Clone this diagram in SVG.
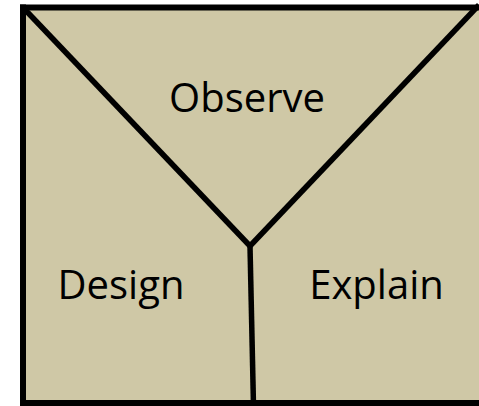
<svg xmlns="http://www.w3.org/2000/svg" width="479" height="406" viewBox="0 0 479 406">
  <defs>
    <style>
      .panel { fill: #CFC8A6; stroke: none; }
      .border { stroke: #000; stroke-width: 6; stroke-linecap: butt; }
      .edge { fill: none; stroke: #000; stroke-width: 5.5; stroke-linecap: butt; }
      .label { font-family: "Open Sans", "Liberation Sans", sans-serif; font-size: 40px; fill: #000; text-anchor: middle; }
    </style>
  </defs>
  <rect width="479" height="406" fill="#FFFFFF"/>
  <g id="frame">
    <rect class="panel" x="23" y="7.5" width="456" height="395.5"/>
    <line class="border" x1="20" y1="7.5" x2="479" y2="7.5"/>
    <line class="border" x1="23" y1="4.5" x2="23" y2="406"/>
    <line class="border" x1="20" y1="403" x2="479" y2="403"/>
  </g>
  <g id="connectors">
    <line class="edge" x1="23" y1="7.5" x2="250" y2="246"/>
    <line class="edge" x1="250" y1="246" x2="479" y2="5"/>
    <line class="edge" x1="250" y1="246" x2="253.5" y2="406"/>
  </g>
  <g id="observe">
    <text class="label" x="247" y="112">Observe</text>
  </g>
  <g id="design">
    <text class="label" x="121" y="299">Design</text>
  </g>
  <g id="explain">
    <text class="label" x="376.5" y="299">Explain</text>
  </g>
</svg>
